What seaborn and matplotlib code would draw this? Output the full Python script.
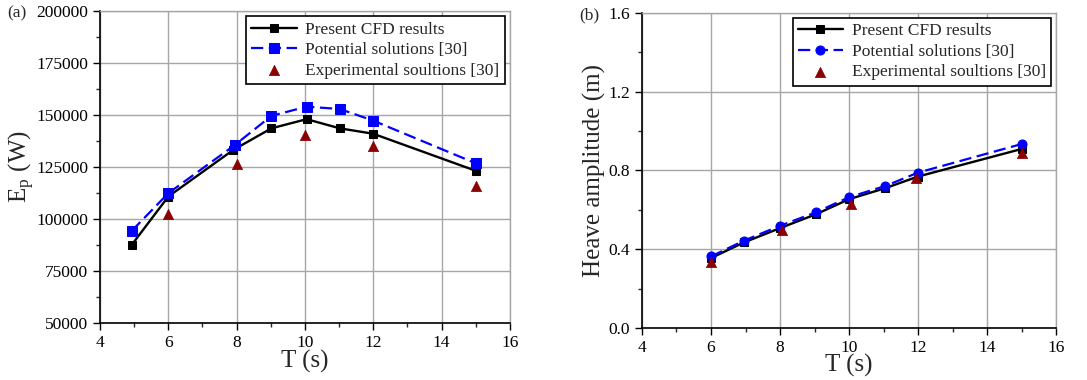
import numpy as np
import pandas as pd
import matplotlib
matplotlib.use("Agg")
import matplotlib.pyplot as plt
from matplotlib.ticker import MultipleLocator
import seaborn as sns

# ---- data (a) ----
a_T_cfd = [4.93, 6.0, 7.9, 9.02, 10.05, 11.02, 12.0, 15.0]
a_E_cfd = [87600, 110800, 133200, 143600, 148000, 143600, 141000, 123200]
a_T_pot = [4.93, 6.0, 7.95, 9.02, 10.05, 11.02, 12.0, 15.0]
a_E_pot = [94300, 112400, 135600, 149600, 154000, 152900, 147300, 126800]
a_T_exp = [6.0, 8.0, 10.0, 12.0, 15.0]
a_E_exp = [102400, 126400, 140500, 135200, 116100]

# ---- data (b) ----
b_T_cfd = [6.0, 6.95, 8.0, 9.05, 10.0, 11.05, 12.0, 15.0]
b_H_cfd = [0.355, 0.434, 0.507, 0.578, 0.654, 0.710, 0.769, 0.909]
b_T_pot = [6.0, 6.95, 8.0, 9.05, 10.0, 11.05, 12.0, 15.0]
b_H_pot = [0.363, 0.443, 0.519, 0.588, 0.664, 0.721, 0.789, 0.934]
b_T_exp = [6.0, 8.05, 10.05, 11.95, 15.0]
b_H_exp = [0.335, 0.498, 0.627, 0.764, 0.890]

lab_cfd = "Present CFD results"
lab_pot = "Potential solutions [30]"
lab_exp = "Experimental soultions [30]"

sns.set_style("ticks")
plt.rcParams["font.family"] = ["Liberation Serif", "DejaVu Serif"]
plt.rcParams["mathtext.fontset"] = "stix"

fig = plt.figure(figsize=(10.87, 3.8), dpi=100)
axA = fig.add_axes([0.092, 0.150, 0.377, 0.821])
axB = fig.add_axes([0.5906, 0.137, 0.381, 0.829])

GRID = "#a6a6a6"
BLUE = "#0000ff"
RED = "#8b0000"

def draw(ax, Tc, Yc, Tp, Yp, Te, Ye, pot_marker):
    ax.set_axisbelow(True)
    ax.grid(True, which="major", color=GRID, linewidth=1.0)
    sns.lineplot(x=Tc, y=Yc, ax=ax, color="black", linewidth=1.7, marker="s",
                 markersize=6, markeredgecolor="black", label=lab_cfd, sort=False, zorder=3)
    sns.lineplot(x=Tp, y=Yp, ax=ax, color=BLUE, linewidth=1.6, marker=pot_marker,
                 markersize=6.5, markeredgecolor=BLUE, label=lab_pot, sort=False, zorder=4)
    ax.lines[-1].set_dashes((5.5, 2.5))
    sns.scatterplot(x=Te, y=Ye, ax=ax, color=RED, marker="^", s=55, edgecolor=RED,
                    linewidth=0.5, label=lab_exp, zorder=5)
    ax.set_xlim(4, 16)
    ax.xaxis.set_major_locator(MultipleLocator(2))
    ax.xaxis.set_minor_locator(MultipleLocator(1))
    ax.tick_params(axis="both", which="major", direction="out", length=5, width=1,
                   labelsize=12.5, colors="black")
    ax.tick_params(axis="both", which="minor", direction="out", length=3, width=1)
    for s in ["left", "bottom"]:
        ax.spines[s].set_color("black")
        ax.spines[s].set_linewidth(1.2)
    for s in ["top", "right"]:
        ax.spines[s].set_color(GRID)
        ax.spines[s].set_linewidth(1.0)
    ax.set_xlabel("T (s)", fontsize=18, labelpad=-1)
    leg = ax.legend(loc="upper right", fontsize=12.5, frameon=True, fancybox=False,
                    edgecolor="black", framealpha=1, handlelength=2.6, handletextpad=0.5,
                    borderpad=0.3, labelspacing=0.25, borderaxespad=0.3)
    leg.get_frame().set_linewidth(1.2)

draw(axA, a_T_cfd, a_E_cfd, a_T_pot, a_E_pot, a_T_exp, a_E_exp, "s")
axA.set_ylim(50000, 200000)
axA.yaxis.set_major_locator(MultipleLocator(25000))
axA.yaxis.set_minor_locator(MultipleLocator(12500))
axA.set_ylabel(r"E$_\mathregular{p}$ (W)", fontsize=18, labelpad=0)

draw(axB, b_T_cfd, b_H_cfd, b_T_pot, b_H_pot, b_T_exp, b_H_exp, "o")
axB.set_ylim(0, 1.6)
axB.yaxis.set_major_locator(MultipleLocator(0.4))
axB.yaxis.set_minor_locator(MultipleLocator(0.2))
axB.yaxis.set_major_formatter(matplotlib.ticker.FormatStrFormatter("%.1f"))
axB.set_ylabel("Heave amplitude (m)", fontsize=18, labelpad=2)

fig.text(0.007, 0.955, "(a)", fontsize=12.5)
fig.text(0.533, 0.948, "(b)", fontsize=12.5)

fig.savefig("out.png", dpi=100)
